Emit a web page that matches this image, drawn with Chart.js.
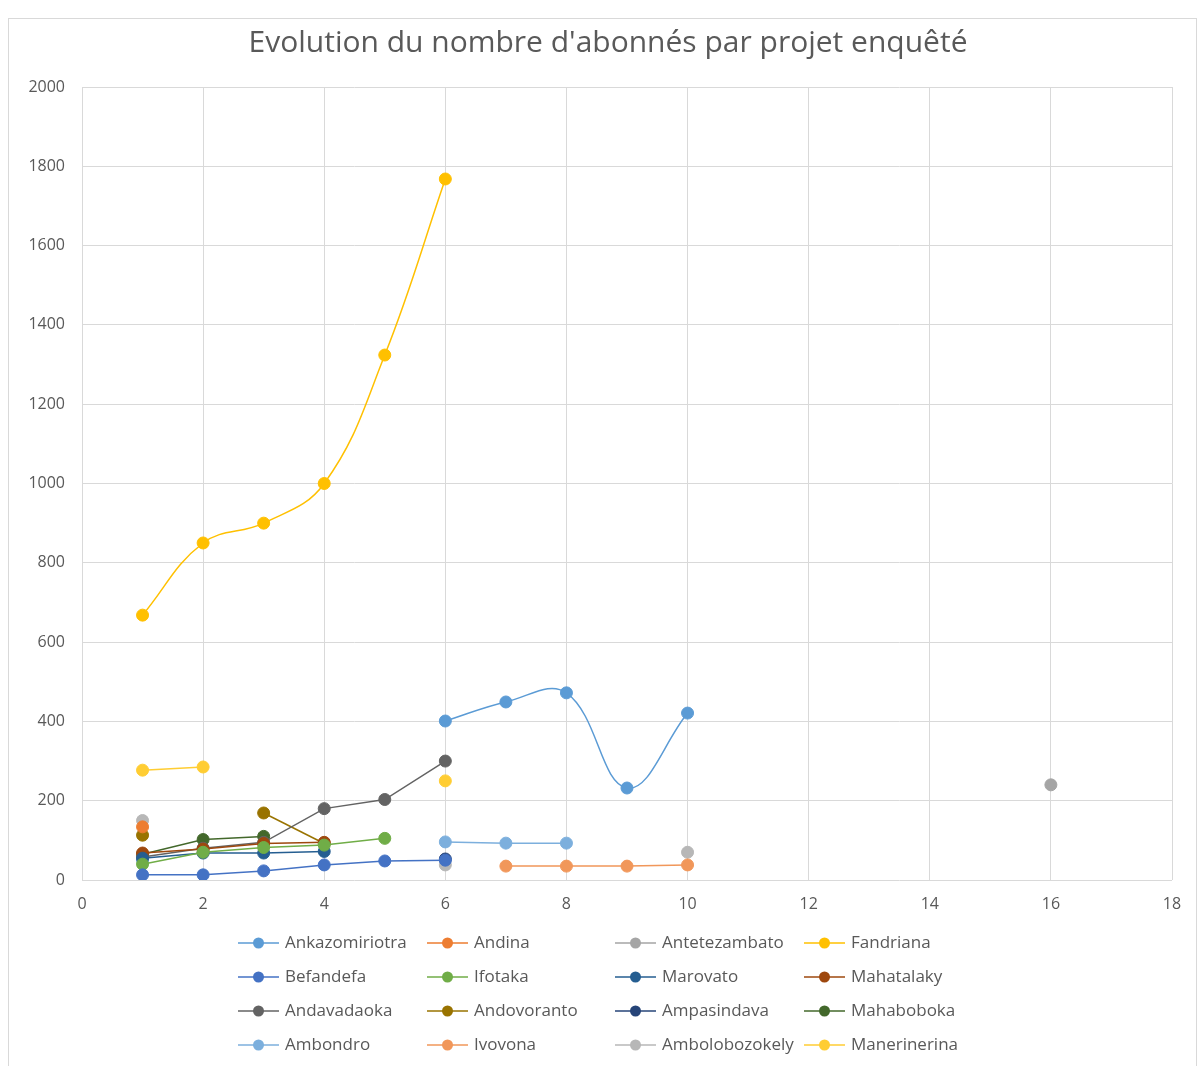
<!DOCTYPE html>
<html>
<head>
<meta charset="utf-8">
<title>Evolution du nombre d'abonnés par projet enquêté</title>
<script src="https://cdn.jsdelivr.net/npm/chart.js@4"></script>
<style>
  html, body { margin: 0; padding: 0; background: #fff; }
  #frame { position: absolute; left: 8px; top: 18px; width: 1189px; height: 1048px;
           border: 1px solid #d9d9d9; border-bottom: none; box-sizing: border-box; }
  #wrap { position: absolute; left: 0; top: 0; width: 1202px; height: 1066px; }
</style>
</head>
<body>
<div id="frame"></div>
<div id="wrap"><canvas id="chart" width="1202" height="1066"></canvas></div>
<script>
// Survey step index (x) shared by every project series
const steps = [1, 2, 3, 4, 5, 6, 7, 8, 9, 10, 11, 12, 13, 14, 15, 16];

// Subscribers per project, indexed by step (null = no survey at that step)
const ankazomiriotra = [null, null, null, null, null, 401, 449, 472, 232, 421];
const andina         = [134];
const antetezambato  = [null, null, null, null, null, null, null, null, null, null, null, null, null, null, null, 240];
const fandriana      = [668, 850, 900, 1000, 1324, 1768];
const befandefa      = [13, 13, 23, 38, 48, 50];
const ifotaka        = [40, 70, 82, 88, 105];
const marovato       = [55, 68, 68, 72];
const mahatalaky     = [68, 78, 92, 95];
const andavadaoka    = [58, 80, 95, 180, 203, 300];
const andovoranto    = [113, null, 169, 92];
const ampasindava    = [null, null, null, null, null, 53];
const mahaboboka     = [65, 102, 110];
const ambondro       = [50, null, null, null, null, 96, 93, 93];
const ivovona        = [null, 70, null, null, null, null, 35, 35, 35, 38];
const ambolobozokely = [150, null, null, null, null, 38, null, null, null, 70];
const manerinerina   = [277, 285, null, null, null, 250];

const seriesNames = [
  'Ankazomiriotra', 'Andina', 'Antetezambato', 'Fandriana',
  'Befandefa', 'Ifotaka', 'Marovato', 'Mahatalaky',
  'Andavadaoka', 'Andovoranto', 'Ampasindava', 'Mahaboboka',
  'Ambondro', 'Ivovona', 'Ambolobozokely', 'Manerinerina'
];
const seriesValues = [
  ankazomiriotra, andina, antetezambato, fandriana,
  befandefa, ifotaka, marovato, mahatalaky,
  andavadaoka, andovoranto, ampasindava, mahaboboka,
  ambondro, ivovona, ambolobozokely, manerinerina
];
const smoothSeries = ['Ankazomiriotra', 'Fandriana'];

const xTicks = [0, 2, 4, 6, 8, 10, 12, 14, 16, 18];
const yTicks = [0, 200, 400, 600, 800, 1000, 1200, 1400, 1600, 1800, 2000];

const palette = [
  '#5B9BD5', '#ED7D31', '#A5A5A5', '#FFC000',
  '#4472C4', '#70AD47', '#255E91', '#9E480E',
  '#636363', '#997300', '#264478', '#43682B',
  '#7CAFDD', '#F1975A', '#B7B7B7', '#FFCD33'
];

const FONT = '"Open Sans", "Liberation Sans", sans-serif';
const TEXT = '#595959';

const datasets = seriesNames.map((name, i) => ({
  label: name,
  data: seriesValues[i].map((v, k) => ({ x: steps[k], y: v })),
  borderColor: palette[i],
  backgroundColor: palette[i],
  pointBackgroundColor: palette[i],
  pointBorderColor: palette[i],
  borderWidth: 1.5,
  pointRadius: 6,
  pointBorderWidth: 1,
  tension: smoothSeries.includes(name) ? 0.4 : 0,
  spanGaps: false,
  fill: false
}));

// Title drawn centred over the framed chart
const titlePlugin = {
  id: 'frameTitle',
  afterDraw(chart) {
    const ctx = chart.ctx;
    ctx.save();
    ctx.fillStyle = TEXT;
    ctx.font = '30px ' + FONT;
    ctx.textAlign = 'center';
    ctx.textBaseline = 'middle';
    ctx.fillText("Evolution du nombre d'abonnés par projet enquêté", 608, 43);
    ctx.restore();
  }
};

// Four-column legend grid under the x axis
const gridLegend = {
  id: 'gridLegend',
  afterDraw(chart) {
    const ctx = chart.ctx;
    const cols = [238, 427, 615, 804];
    const rowTop = 943, rowGap = 34;
    ctx.save();
    ctx.font = '17px ' + FONT;
    ctx.textBaseline = 'middle';
    ctx.textAlign = 'left';
    chart.data.datasets.forEach((ds, i) => {
      const x = cols[i % 4];
      const y = rowTop + Math.floor(i / 4) * rowGap;
      ctx.strokeStyle = ds.borderColor;
      ctx.lineWidth = 1.5;
      ctx.beginPath();
      ctx.moveTo(x, y);
      ctx.lineTo(x + 41, y);
      ctx.stroke();
      ctx.fillStyle = ds.backgroundColor;
      ctx.beginPath();
      ctx.arc(x + 20.5, y, 5.5, 0, Math.PI * 2);
      ctx.fill();
      ctx.fillStyle = TEXT;
      ctx.fillText(ds.label, x + 47, y);
    });
    ctx.restore();
  }
};

new Chart(document.getElementById('chart'), {
  type: 'line',
  data: { datasets },
  plugins: [titlePlugin, gridLegend],
  options: {
    responsive: false,
    animation: false,
    layout: { padding: { top: 87, right: 30, left: 0, bottom: 0 } },
    plugins: {
      legend: { display: false },
      title: { display: false },
      tooltip: { enabled: false }
    },
    scales: {
      x: {
        type: 'linear',
        min: xTicks[0],
        max: xTicks[xTicks.length - 1],
        afterBuildTicks(scale) { scale.ticks = xTicks.map(v => ({ value: v })); },
        afterFit(scale) { scale.height = 186; },
        ticks: { color: TEXT, font: { family: FONT, size: 16 }, padding: 15,
                 callback: v => String(v) },
        grid: { color: '#d9d9d9', lineWidth: 1, drawTicks: false },
        border: { display: false }
      },
      y: {
        type: 'linear',
        min: yTicks[0],
        max: yTicks[yTicks.length - 1],
        afterBuildTicks(scale) { scale.ticks = yTicks.map(v => ({ value: v })); },
        afterFit(scale) { scale.width = 82; },
        ticks: { color: TEXT, font: { family: FONT, size: 16 }, padding: 17,
                 callback: v => String(v) },
        grid: { color: '#d9d9d9', lineWidth: 1, drawTicks: false },
        border: { display: false }
      }
    }
  }
});
</script>
</body>
</html>
